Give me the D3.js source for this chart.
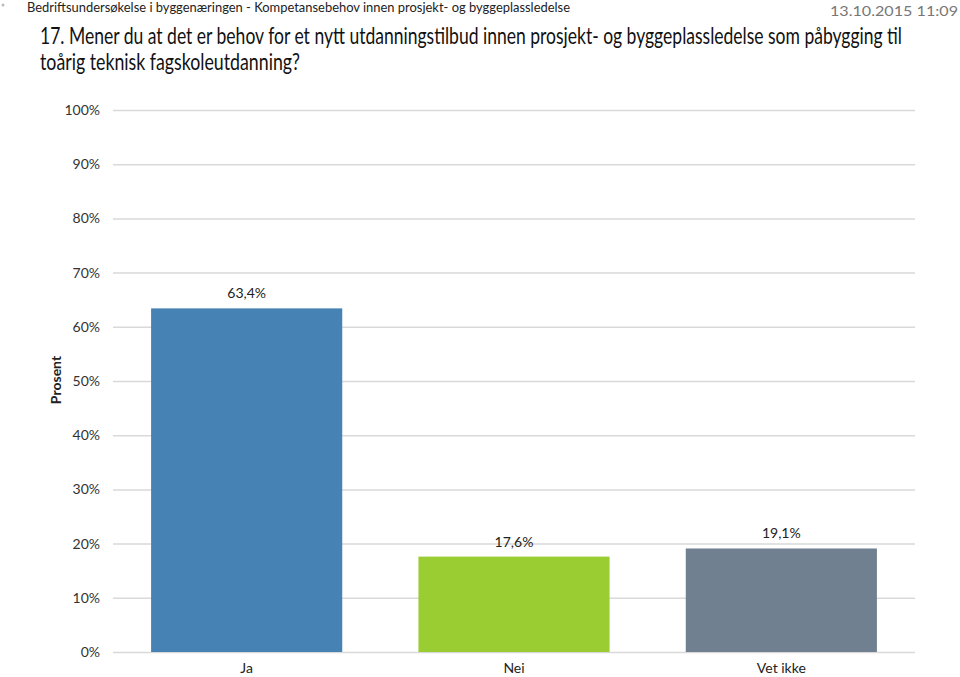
<!DOCTYPE html>
<html><head><meta charset="utf-8">
<script src="https://cdn.jsdelivr.net/npm/d3@7"></script>
<style>body{margin:0;background:#fff}svg{display:block}</style>
</head><body>
<script>
const categories = ["Ja", "Nei", "Vet ikke"];
const values = [63.4, 17.6, 19.1];
const valueLabels = ["63,4%", "17,6%", "19,1%"];
const colors = ["#4682B4", "#9ACD32", "#708090"];
const ticks = [0,10,20,30,40,50,60,70,80,90,100];

const W = 960, H = 677;
const svg = d3.select("body").append("svg").attr("width", W).attr("height", H);
const font = "Lato, 'Open Sans', sans-serif";

svg.append("circle").attr("cx",3).attr("cy",5).attr("r",1.5).attr("fill","#bbb");
svg.append("text").attr("x",27).attr("y",12).attr("font-family",font).attr("font-size",13.5)
  .attr("fill","#222").attr("textLength",543).attr("lengthAdjust","spacingAndGlyphs")
  .text("Bedriftsundersøkelse i byggenæringen - Kompetansebehov innen prosjekt- og byggeplassledelse");
svg.append("text").attr("x",958).attr("y",16).attr("text-anchor","end").attr("font-family",font)
  .attr("font-size",13.5).attr("fill","#777").attr("textLength",128).attr("lengthAdjust","spacingAndGlyphs")
  .text("13.10.2015 11:09");
svg.append("text").attr("x",40).attr("y",44).attr("font-family",font).attr("font-size",23)
  .attr("fill","#111").attr("textLength",862).attr("lengthAdjust","spacingAndGlyphs")
  .text("17. Mener du at det er behov for et nytt utdanningstilbud innen prosjekt- og byggeplassledelse som påbygging til");
svg.append("text").attr("x",40).attr("y",70).attr("font-family",font).attr("font-size",23)
  .attr("fill","#111").attr("textLength",260).attr("lengthAdjust","spacingAndGlyphs")
  .text("toårig teknisk fagskoleutdanning?");

const x = d3.scaleBand().domain(categories).range([113, 915]).paddingInner(0.285).paddingOuter(0.1425);
const y = d3.scaleLinear().domain([0, 100]).range([652, 110]);

const yAxis = d3.axisLeft(y).tickValues(ticks).tickFormat(d => d + "%").tickSize(-(915-113)).tickPadding(13);
const gy = svg.append("g").attr("transform","translate(113,0)").call(yAxis);
gy.select(".domain").remove();
gy.selectAll(".tick line").attr("stroke","#d9d9d9").attr("stroke-width",1.5);
gy.selectAll(".tick text").attr("font-family",font).attr("font-size",14).attr("fill","#333");

svg.selectAll("rect.bar").data(values).enter().append("rect").attr("class","bar")
  .attr("x",(d,i)=>x(categories[i])).attr("width",x.bandwidth())
  .attr("y",d=>y(d)).attr("height",d=>y(0)-y(d)).attr("fill",(d,i)=>colors[i]);

svg.selectAll("text.vl").data(values).enter().append("text").attr("class","vl")
  .attr("x",(d,i)=>x(categories[i])+x.bandwidth()/2).attr("y",d=>y(d)-10)
  .attr("text-anchor","middle").attr("font-family",font).attr("font-size",14).attr("fill","#222")
  .text((d,i)=>valueLabels[i]);

const xAxis = d3.axisBottom(x).tickSize(0).tickPadding(11);
const gx = svg.append("g").attr("transform","translate(0,652)").call(xAxis);
gx.select(".domain").remove();
gx.selectAll(".tick text").attr("font-family",font).attr("font-size",14).attr("fill","#222");

svg.append("text").attr("transform","translate(61,380) rotate(-90)").attr("text-anchor","middle")
  .attr("font-family",font).attr("font-size",14).attr("font-weight","bold").attr("fill","#222").text("Prosent");
</script>
</body></html>
